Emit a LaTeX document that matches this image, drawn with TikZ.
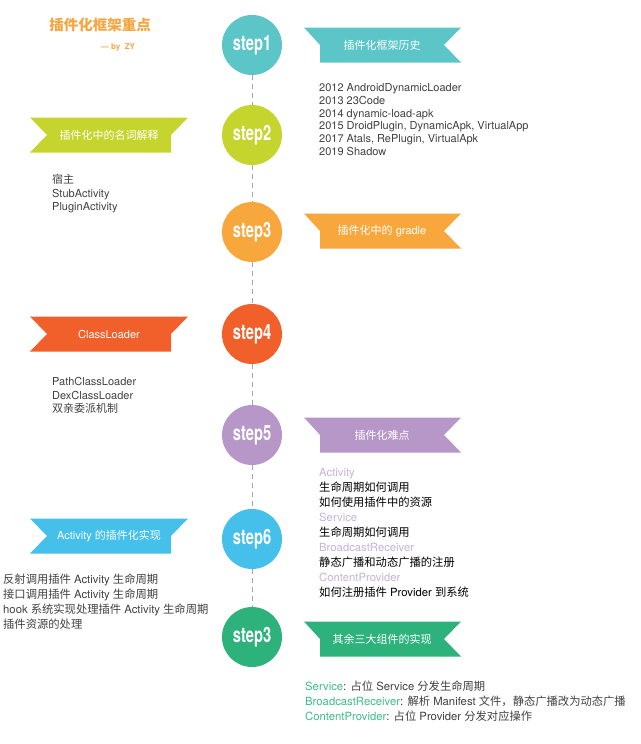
\documentclass[tikz,border=0pt]{standalone}
\usepackage{fontspec}
\setmainfont{TeX Gyre Heros}
\newfontfamily\cjk{Noto Sans CJK SC}
\newfontfamily\stepfont[FakeStretch=0.7]{TeX Gyre Heros}
\newcommand{\zh}[1]{{\cjk #1}}
\definecolor{cOne}{HTML}{5CC5C7}
\definecolor{cTwo}{HTML}{C6D52E}
\definecolor{cThree}{HTML}{F8A73C}
\definecolor{cFour}{HTML}{F15F2A}
\definecolor{cFive}{HTML}{B797C8}
\definecolor{cSix}{HTML}{44C0EA}
\definecolor{cSeven}{HTML}{2EB27C}
\definecolor{ttl}{HTML}{F6A540}
\definecolor{txtgray}{HTML}{404040}
\definecolor{lav}{HTML}{C4B3D9}
\definecolor{grn}{HTML}{3DBB8C}
\begin{document}
\begin{tikzpicture}[x=1pt, y=-1pt,
  stepc/.style={circle, minimum size=60pt, inner sep=0pt, text=white,
    font=\stepfont\bfseries\fontsize{21}{21}\selectfont},
  dline/.style={gray!70, dash pattern=on 5pt off 4pt, line width=0.6pt},
  rtxt/.style={text=white, inner sep=0pt, font=\fontsize{11}{13}\selectfont},
  blk/.style={align=left, anchor=north west, inner sep=0pt, text=txtgray}]
\useasboundingbox (0,0) rectangle (640,744);
% title
\node[text=ttl, font=\cjk\bfseries\fontsize{14.5}{15}\selectfont] (title) at (100,25) {插件化框架重点};
\node[text=ttl, font=\bfseries\fontsize{8}{8}\selectfont] (by) at (118,47.5) {--- by\ \ ZY};
% steps
\node[stepc, fill=cOne] (s1) at (252,45) {step1};
\node[stepc, fill=cTwo] (s2) at (252,135) {step2};
\node[stepc, fill=cThree] (s3) at (252,232) {step3};
\node[stepc, fill=cFour] (s4) at (252,334) {step4};
\node[stepc, fill=cFive] (s5) at (252,435) {step5};
\node[stepc, fill=cSix] (s6) at (252,539) {step6};
\node[stepc, fill=cSeven] (s7) at (252,637) {step3};
\foreach \a/\b in {s1/s2,s2/s3,s3/s4,s4/s5,s5/s6,s6/s7}
    \draw[dline] (\a)--(\b);
% ribbons on the right
\foreach \c/\col/\nm/\lab in {45/cOne/r1/{\zh{插件化框架历史}},
    231/cThree/r3/{\zh{插件化中的} gradle}, 435/cFive/r5/{\zh{插件化难点}},
    639/cSeven/r7/{\zh{其余三大组件的实现}}}
{
    \fill[\col] (304,\c-17.5)--(461,\c-17.5)--(444,\c)--(461,\c+17.5)--(320,\c+17.5)--(320,\c)--cycle;
    \node[rtxt] (\nm) at (382,\c) {\lab};
}
% ribbons on the left
\foreach \c/\col/\nm/\lab in {135/cTwo/r2/{\zh{插件化中的名词解释}},
    334/cFour/r4/{ClassLoader}, 536/cSix/r6/{Activity \zh{的插件化实现}}}
{
    \fill[\col] (30,\c-17.5)--(188,\c-17.5)--(171,\c)--(171,\c+17.5)--(30,\c+17.5)--(47,\c)--cycle;
    \node[rtxt] (\nm) at (109,\c) {\lab};
}
% texts
\node[blk, font=\fontsize{11}{12.7}\selectfont] (t1) at (319,83.5) {2012 AndroidDynamicLoader\\
    2013 23Code\\2014 dynamic-load-apk\\2015 DroidPlugin, DynamicApk, VirtualApp\\
    2017 Atals, RePlugin, VirtualApk\\2019 Shadow};
\node[blk, font=\fontsize{11}{13.5}\selectfont] (t2) at (52,174) {\zh{宿主}\\StubActivity\\PluginActivity};
\node[blk, font=\fontsize{11}{13.5}\selectfont] (t4) at (52,377.5) {PathClassLoader\\DexClassLoader\\\zh{双亲委派机制}};
\node[blk, text=black, font=\fontsize{11.3}{15}\selectfont] (t5) at (319,468.5) {\textcolor{lav}{Activity}\\
    \zh{生命周期如何调用}\\\zh{如何使用插件中的资源}\\\textcolor{lav}{Service}\\
    \zh{生命周期如何调用}\\\textcolor{lav}{BroadcastReceiver}\\\zh{静态广播和动态广播的注册}\\
    \textcolor{lav}{ContentProvider}\\\zh{如何注册插件} Provider \zh{到系统}};
\node[blk, font=\fontsize{11.3}{15.2}\selectfont] (t6) at (3,573.5) {\zh{反射调用插件} Activity \zh{生命周期}\\
    \zh{接口调用插件} Activity \zh{生命周期}\\hook \zh{系统实现处理插件} Activity \zh{生命周期}\\
    \zh{插件资源的处理}};
\node[blk, font=\fontsize{11.3}{15}\selectfont] (t7) at (305,680.5) {\textcolor{grn}{Service}: \zh{占位} Service \zh{分发生命周期}\\
    \textcolor{grn}{BroadcastReceiver}: \zh{解析} Manifest \zh{文件，静态广播改为动态广播}\\
    \textcolor{grn}{ContentProvider}: \zh{占位} Provider \zh{分发对应操作}};
\end{tikzpicture}
\end{document}
